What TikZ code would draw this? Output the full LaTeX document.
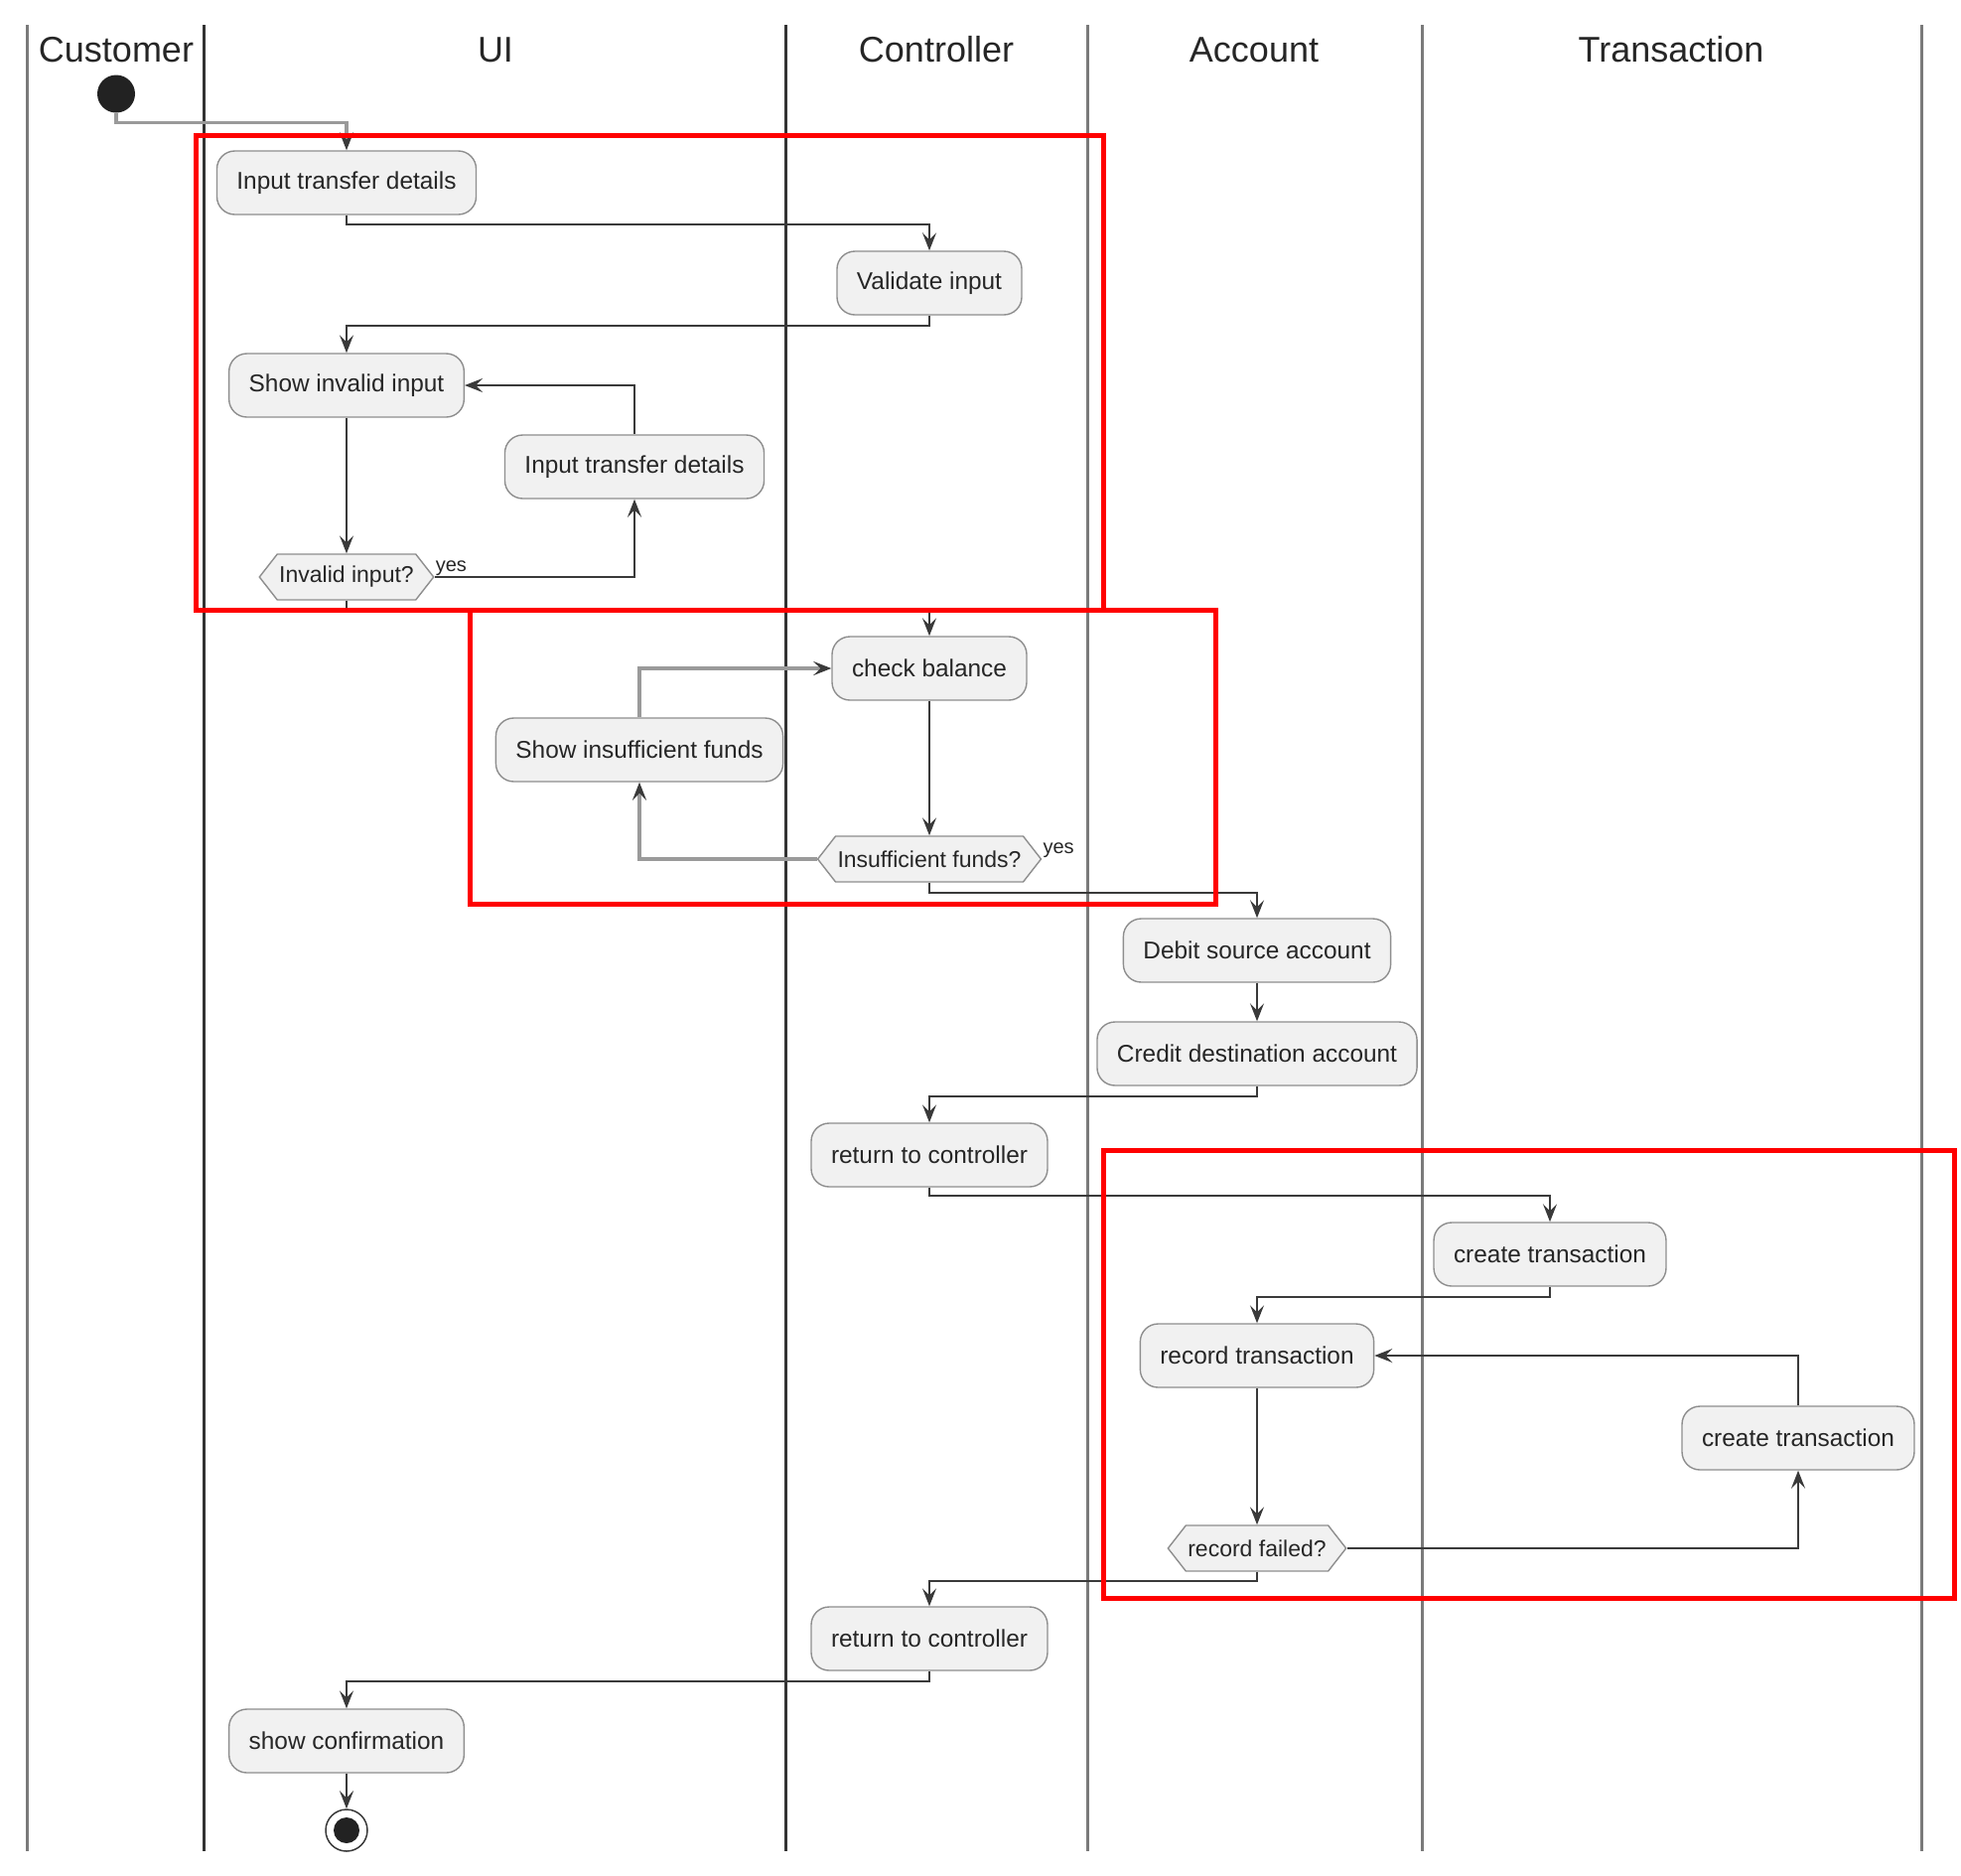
\documentclass[tikz,border=0pt]{standalone}
\usepackage{fontspec}
\setmainfont{Liberation Sans}
\usetikzlibrary{arrows.meta,shapes.symbols}
\definecolor{nodefill}{HTML}{F1F1F1}
\definecolor{nodeline}{HTML}{8E8E8E}
\definecolor{conn}{HTML}{3A3A3A}
\definecolor{softconn}{HTML}{9A9A9A}
\definecolor{lanedark}{HTML}{333333}
\definecolor{lanegray}{HTML}{7A7A7A}
\definecolor{hl}{HTML}{FF0000}
\definecolor{dotfill}{HTML}{222222}
\begin{document}
\begin{tikzpicture}[x=1pt,y=-1pt,
  act/.style={rectangle, rounded corners=18pt, draw=nodeline, line width=1.4pt, fill=nodefill,
    minimum height=64pt, inner xsep=20pt, inner ysep=0pt, font=\fontsize{24.4}{28}\selectfont, text=black!85},
  dec/.style={signal, signal to=east and west, signal pointer angle=104, draw=nodeline, line width=1.4pt,
    fill=nodefill, minimum height=46pt, inner xsep=2pt, inner ysep=0pt, font=\fontsize{23}{26}\selectfont, text=black!85},
  flow/.style={draw=conn, line width=2pt, -{Stealth[length=18pt,width=14pt,inset=7pt,color=conn]}},
  softflow/.style={flow, draw=softconn, line width=3.5pt},
  lane/.style={line width=3pt},
  lanehead/.style={font=\fontsize{36}{40}\selectfont, text=black!85},
  yeslbl/.style={font=\fontsize{20}{22}\selectfont, inner sep=1pt, text=black!85},
  highlight/.style={draw=hl, line width=5pt}
]
\useasboundingbox (0,0) rectangle (1975,1888);
% lanes
\draw[lane, draw=lanegray] (27.7,25) -- (27.7,1864);
\draw[lane, draw=lanedark] (205.3,25) -- (205.3,1864);
\draw[lane, draw=lanedark] (791,25) -- (791,1864);
\draw[lane, draw=lanegray] (1095,25) -- (1095,1864);
\draw[lane, draw=lanegray] (1432,25) -- (1432,1864);
\draw[lane, draw=lanegray] (1935,25) -- (1935,1864);
\node[lanehead] (hCust) at (117,50) {Customer};
\node[lanehead] (hUI) at (499,50) {UI};
\node[lanehead] (hCtrl) at (943,50) {Controller};
\node[lanehead] (hAcc) at (1263,50) {Account};
\node[lanehead] (hTrans) at (1683,50) {Transaction};
% nodes
\node[circle, fill=dotfill, inner sep=0pt, minimum size=38pt] (start) at (117,94.5) {};
\node[act] (n1) at (349,184) {Input transfer details};
\node[act] (n2) at (936,285) {Validate input};
\node[act] (n3) at (349,388) {Show invalid input};
\node[act] (n4) at (639,470) {Input transfer details};
\node[dec] (d1) at (349,581) {Invalid input?};
\node[act] (n6) at (936,673) {check balance};
\node[act] (n7) at (644,755) {Show insufficient funds};
\node[dec] (d2) at (936,865) {Insufficient funds?};
\node[act] (n9) at (1266,957) {Debit source account};
\node[act] (n10) at (1266,1061) {Credit destination account};
\node[act] (n11) at (936,1163) {return to controller};
\node[act] (n12) at (1561,1263) {create transaction};
\node[act] (n13) at (1266,1365) {record transaction};
\node[act] (n14) at (1811,1448) {create transaction};
\node[dec] (d3) at (1266,1559) {record failed?};
\node[act] (n16) at (936,1650) {return to controller};
\node[act] (n17) at (349,1753) {show confirmation};
\node[circle, draw=conn, line width=1.5pt, fill=white, inner sep=0pt, minimum size=42pt] (end) at (349,1843) {};
\node[circle, fill=dotfill, inner sep=0pt, minimum size=26pt] (endin) at (end.center) {};
% labels
\node[yeslbl, anchor=south west] (y1) at (d1.east) {yes};
\node[yeslbl, anchor=south west] (y2) at (d2.east) {yes};
% connectors
\draw[softflow] (start.south) -- ++(0,10) -| (n1.north);
\draw[flow] (n1.south) -- ++(0,9) -| (n2.north);
\draw[flow] (n2.south) -- ++(0,10) -| (n3.north);
\draw[flow] (n3.south) -- (d1.north);
\draw[flow] (d1.east) -| (n4.south);
\draw[flow] (n4.north) |- (n3.east);
\draw[flow] (d1.south) -- ++(0,10) -| (n6.north);
\draw[flow] (n6.south) -- (d2.north);
\draw[softflow] (d2.west) -| (n7.south);
\draw[softflow] (n7.north) |- (n6.west);
\draw[flow] (d2.south) -- ++(0,10) -| (n9.north);
\draw[flow] (n9.south) -- (n10.north);
\draw[flow] (n10.south) -- ++(0,10) -| (n11.north);
\draw[flow] (n11.south) -- ++(0,8) -| (n12.north);
\draw[flow] (n12.south) -- ++(0,10) -| (n13.north);
\draw[flow] (n13.south) -- (d3.north);
\draw[flow] (d3.east) -| (n14.south);
\draw[flow] (n14.north) |- (n13.east);
\draw[flow] (d3.south) -- ++(0,9) -| (n16.north);
\draw[flow] (n16.south) -- ++(0,10) -| (n17.north);
\draw[flow] (n17.south) -- (end.north);
% highlight boxes
\draw[highlight] (197.8,136) rectangle (1111,614.7);
\draw[highlight] (473.6,614.7) rectangle (1224.3,910.7);
\draw[highlight] (1111,1158.8) rectangle (1968.8,1609.8);
\end{tikzpicture}
\end{document}
